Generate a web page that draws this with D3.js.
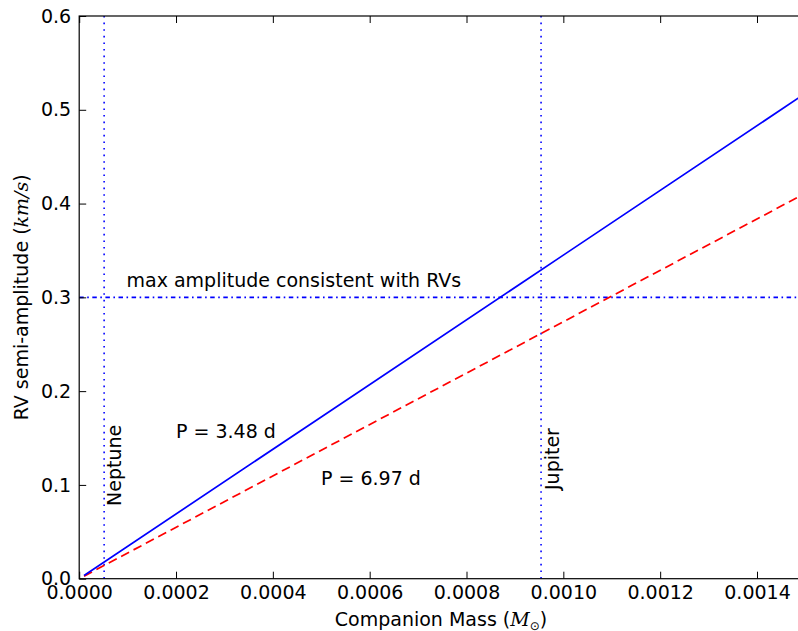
<!DOCTYPE html>
<html><head><meta charset="utf-8">
<script src="https://cdn.jsdelivr.net/npm/d3@7"></script>
<style>body{margin:0;background:#fff;} svg{display:block;} text{font-family:"DejaVu Sans",sans-serif;}</style>
</head><body><svg id="c" width="798" height="631"></svg>
<script>
const xTicks = [0, 0.0002, 0.0004, 0.0006, 0.0008, 0.0010, 0.0012, 0.0014];
const yTicks = [0.0, 0.1, 0.2, 0.3, 0.4, 0.5, 0.6];
const massValues = [0.00001, 0.0005, 0.0010, 0.0015];
const kShort = [0.00345, 0.1725, 0.345, 0.5175];   // P = 3.48 d
const kLong = [0.00274, 0.137, 0.274, 0.411];      // P = 6.97 d
const planetNames = ["Neptune", "Jupiter"];
const planetMasses = [0.0000515, 0.000954];
const maxAmplitude = 0.3;

const FS = 19;
const svg = d3.select("#c");
const L = 79.2, R = 805.4, T = 16, B = 578.7;
const x = d3.scaleLinear().domain([0, 0.0015]).range([L, R]);
const y = d3.scaleLinear().domain([0, 0.6]).range([B, T]);

svg.append("defs").append("clipPath").attr("id", "clip")
  .append("rect").attr("x", L).attr("y", T).attr("width", R - L).attr("height", B - T);
const g = svg.append("g").attr("clip-path", "url(#clip)");

// planet lines
planetMasses.forEach(m => {
  g.append("line").attr("x1", x(m)).attr("x2", x(m)).attr("y1", T).attr("y2", B)
    .attr("stroke", "#0000ff").attr("stroke-width", 1.6).attr("stroke-dasharray", "1.6,5");
});
// max amplitude line
g.append("line").attr("x1", L).attr("x2", R).attr("y1", y(maxAmplitude)).attr("y2", y(maxAmplitude))
  .attr("stroke", "#0000ff").attr("stroke-width", 1.6).attr("stroke-dasharray", "4.5,3.5,1.6,3.5");

const line = d3.line().x(d => x(d[0])).y(d => y(d[1]));
g.append("path").datum(massValues.map((m, i) => [m, kLong[i]])).attr("d", line)
  .attr("fill", "none").attr("stroke", "#ff0000").attr("stroke-width", 1.7).attr("stroke-dasharray", "9,5");
g.append("path").datum(massValues.map((m, i) => [m, kShort[i]])).attr("d", line)
  .attr("fill", "none").attr("stroke", "#0000ff").attr("stroke-width", 1.7);

// axes
const ax = svg.append("g");
const tl = 7;
const axB = d3.axisBottom(x).tickValues(xTicks).tickFormat(d3.format(".4f")).tickSize(-tl).tickPadding(7);
const axT = d3.axisTop(x).tickValues(xTicks).tickFormat("").tickSize(-tl);
const axL = d3.axisLeft(y).tickValues(yTicks).tickFormat(d3.format(".1f")).tickSize(-tl).tickPadding(8);
const axR = d3.axisRight(y).tickValues(yTicks).tickFormat("").tickSize(-tl);
[[axB, `translate(0,${B})`], [axT, `translate(0,${T})`], [axL, `translate(${L},0)`], [axR, `translate(${R},0)`]].forEach(([a, t]) => {
  const gg = ax.append("g").attr("transform", t).call(a);
  gg.select(".domain").remove();
  gg.selectAll(".tick line").attr("stroke", "#000").attr("stroke-width", 1);
  gg.selectAll("text").attr("font-size", FS).attr("fill", "#000").attr("font-family", "DejaVu Sans");
});
ax.append("rect").attr("x", L).attr("y", T).attr("width", R - L).attr("height", B - T)
  .attr("fill", "none").attr("stroke", "#000").attr("stroke-width", 1.2);

// annotations
svg.append("text").attr("x", 126.5).attr("y", 287).attr("font-size", FS).text("max amplitude consistent with RVs");
svg.append("text").attr("x", 176).attr("y", 437.5).attr("font-size", FS).text("P = 3.48 d");
svg.append("text").attr("x", 321).attr("y", 485).attr("font-size", FS).text("P = 6.97 d");
svg.append("text").attr("transform", "translate(121,506) rotate(-90)").attr("font-size", FS).text(planetNames[0]);
svg.append("text").attr("transform", "translate(559,490) rotate(-90)").attr("font-size", FS).text(planetNames[1]);

// axis labels
const xl = svg.append("text").attr("x", 441).attr("y", 625.5).attr("text-anchor", "middle").attr("font-size", FS);
xl.append("tspan").text("Companion Mass (");
xl.append("tspan").attr("font-style", "italic").attr("font-family", "DejaVu Serif").text("M");
xl.append("tspan").attr("font-size", 12).attr("dy", 4).text("\u2299");
xl.append("tspan").attr("dy", -4).text(")");

const yl = svg.append("text").attr("transform", `translate(28,${(T + B) / 2}) rotate(-90)`).attr("text-anchor", "middle").attr("font-size", FS);
yl.append("tspan").text("RV semi-amplitude (");
yl.append("tspan").attr("font-style", "italic").attr("font-family", "DejaVu Serif").text("km/s");
yl.append("tspan").text(")");
</script></body></html>
